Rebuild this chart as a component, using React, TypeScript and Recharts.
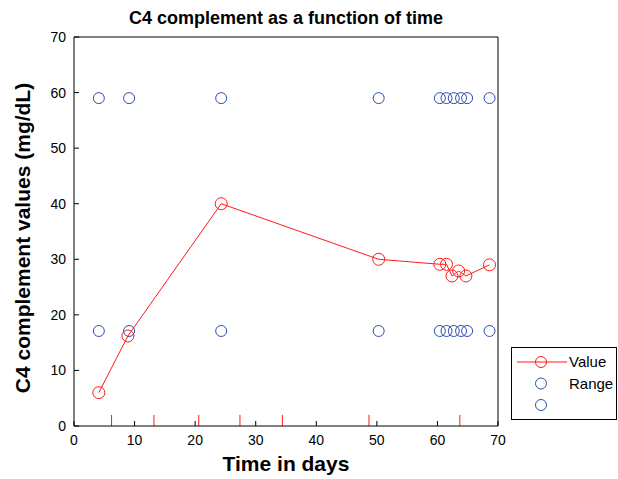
import {
  ScatterChart,
  Scatter,
  XAxis,
  YAxis,
  ReferenceLine,
} from 'recharts';

// measured C4 values
const valueDays = [4.1, 8.9, 24.3, 50.3, 60.4, 61.5, 62.4, 63.5, 64.7, 68.6];
const c4Values = [6, 16.2, 40, 30, 29.1, 29.1, 27, 27.9, 27, 29];

// reference range bounds
const rangeDays = [4.1, 9.1, 24.3, 50.3, 60.4, 61.5, 62.7, 63.9, 64.9, 68.6];
const rangeHigh = [59, 59, 59, 59, 59, 59, 59, 59, 59, 59];
const rangeLow = [17.1, 17.1, 17.1, 17.1, 17.1, 17.1, 17.1, 17.1, 17.1, 17.1];

// red marker ticks along the x axis
const eventDays = [6.2, 13.2, 20.6, 27.4, 34.4, 48.7, 63.7];
const eventHeight = 2;

const xTicks = [0, 10, 20, 30, 40, 50, 60, 70];
const yTicks = [0, 10, 20, 30, 40, 50, 60, 70];

const valueData = valueDays.map((x, i) => ({ x, y: c4Values[i] }));
const highData = rangeDays.map((x, i) => ({ x, y: rangeHigh[i] }));
const lowData = rangeDays.map((x, i) => ({ x, y: rangeLow[i] }));

const RED = '#ff1a1a';
const BLUE = '#2f4fae';
const FONT = '"Liberation Sans", Arial, sans-serif';

const BottomTick = (props: any) => {
  const { x, y, payload } = props;
  return (
    <g>
      <line x1={x} y1={y} x2={x} y2={y - 5} stroke="#000" strokeWidth={1} />
      <text x={x} y={y + 19} textAnchor="middle" fontSize={14} fill="#000" fontFamily={FONT}>
        {payload.value}
      </text>
    </g>
  );
};

const TopTick = (props: any) => {
  const { x, y } = props;
  return <line x1={x} y1={y} x2={x} y2={y + 5} stroke="#000" strokeWidth={1} />;
};

const LeftTick = (props: any) => {
  const { x, y, payload } = props;
  return (
    <g>
      <line x1={x} y1={y} x2={x + 5} y2={y} stroke="#000" strokeWidth={1} />
      <text x={x - 8} y={y + 5} textAnchor="end" fontSize={14} fill="#000" fontFamily={FONT}>
        {payload.value}
      </text>
    </g>
  );
};

const RightTick = (props: any) => {
  const { x, y } = props;
  return <line x1={x} y1={y} x2={x - 5} y2={y} stroke="#000" strokeWidth={1} />;
};

const legendItems = [
  { label: 'Value', color: RED, line: true },
  { label: 'Range', color: BLUE, line: false },
  { label: '', color: BLUE, line: false },
];

const LegendBox = () => (
  <div
    style={{
      position: 'absolute',
      left: 511,
      top: 347,
      width: 106,
      height: 73,
      border: '1px solid #000',
      background: '#fff',
      boxSizing: 'border-box',
    }}
  >
    <svg width={104} height={71} style={{ display: 'block' }}>
      {legendItems.map((item, i) => {
        const cy = 14 + i * 21.5;
        return (
          <g key={i}>
            {item.line && <line x1={5} y1={cy} x2={55} y2={cy} stroke={item.color} strokeWidth={1} />}
            <circle cx={29} cy={cy} r={5.5} fill="none" stroke={item.color} strokeWidth={1} />
            <text x={57} y={cy + 5} fontSize={15} fill="#000" fontFamily={FONT}>
              {item.label}
            </text>
          </g>
        );
      })}
    </svg>
  </div>
);

const hollow = (color: string, r: number) => (props: any) => (
  <circle cx={props.cx} cy={props.cy} r={r} fill="none" stroke={color} strokeWidth={1} />
);

export default function App() {
  return (
    <div
      style={{
        position: 'fixed',
        left: 0,
        top: 0,
        width: 618,
        height: 479,
        overflow: 'hidden',
        background: '#fff',
      }}
    >
      <ScatterChart
        width={618}
        height={479}
        margin={{ top: 36, right: 119, bottom: 0, left: 0 }}
      >
        <XAxis
          xAxisId="bottom"
          type="number"
          dataKey="x"
          domain={[0, 70]}
          ticks={xTicks}
          orientation="bottom"
          height={53}
          tickSize={0}
          tickMargin={0}
          tickLine={false}
          tick={<BottomTick />}
          stroke="#000"
        />
        <XAxis
          xAxisId="top"
          type="number"
          dataKey="x"
          domain={[0, 70]}
          ticks={xTicks}
          orientation="top"
          height={1}
          tickSize={0}
          tickMargin={0}
          tickLine={false}
          tick={<TopTick />}
          stroke="#000"
        />
        <YAxis
          yAxisId="left"
          type="number"
          dataKey="y"
          domain={[0, 70]}
          ticks={yTicks}
          orientation="left"
          width={74}
          tickSize={0}
          tickMargin={0}
          tickLine={false}
          tick={<LeftTick />}
          stroke="#000"
        />
        <YAxis
          yAxisId="right"
          type="number"
          dataKey="y"
          domain={[0, 70]}
          ticks={yTicks}
          orientation="right"
          width={1}
          tickSize={0}
          tickMargin={0}
          tickLine={false}
          tick={<RightTick />}
          stroke="#000"
        />
        {eventDays.map((d) => (
          <ReferenceLine
            key={d}
            xAxisId="bottom"
            yAxisId="left"
            segment={[
              { x: d, y: 0 },
              { x: d, y: eventHeight },
            ]}
            stroke={RED}
            strokeWidth={1}
          />
        ))}
        <Scatter
          name="Value"
          data={valueData}
          xAxisId="bottom"
          yAxisId="left"
          line={{ stroke: RED, strokeWidth: 1 }}
          shape={hollow(RED, 6)}
          isAnimationActive={false}
        />
        <Scatter
          name="Range"
          data={highData}
          xAxisId="bottom"
          yAxisId="left"
          shape={hollow(BLUE, 5.5)}
          isAnimationActive={false}
        />
        <Scatter
          name=""
          data={lowData}
          xAxisId="bottom"
          yAxisId="left"
          shape={hollow(BLUE, 5.5)}
          isAnimationActive={false}
        />
      </ScatterChart>
      <LegendBox />
      <div
        style={{
          position: 'absolute',
          left: 74,
          width: 424,
          top: 8,
          textAlign: 'center',
          fontFamily: FONT,
          fontWeight: 'bold',
          fontSize: 18,
          color: '#000',
        }}
      >
        C4 complement as a function of time
      </div>
      <div
        style={{
          position: 'absolute',
          left: 74,
          width: 424,
          top: 452,
          textAlign: 'center',
          fontFamily: FONT,
          fontWeight: 'bold',
          fontSize: 21,
          lineHeight: '24px',
          color: '#000',
        }}
      >
        Time in days
      </div>
      <div
        style={{
          position: 'absolute',
          left: 23,
          top: 238,
          transform: 'translate(-50%, -50%) rotate(-90deg)',
          whiteSpace: 'nowrap',
          fontFamily: FONT,
          fontWeight: 'bold',
          fontSize: 21,
          color: '#000',
        }}
      >
        C4 complement values (mg/dL)
      </div>
    </div>
  );
}
